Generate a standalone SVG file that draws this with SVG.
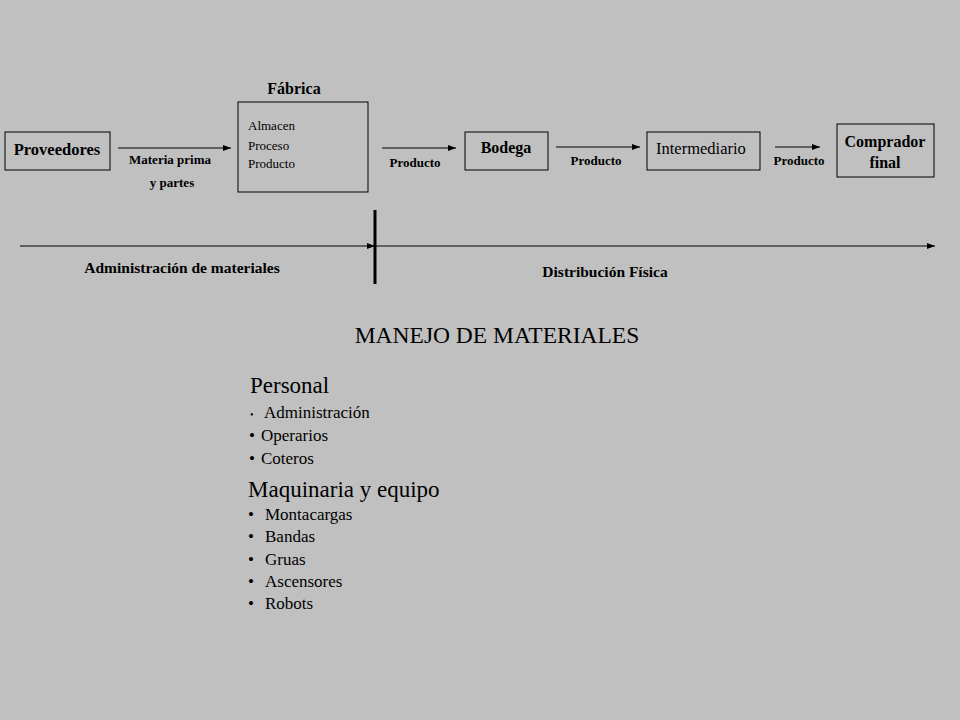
<svg xmlns="http://www.w3.org/2000/svg" width="960" height="720" viewBox="0 0 960 720">
<defs><marker id="ah" markerWidth="8" markerHeight="6" refX="8" refY="3" orient="auto" markerUnits="userSpaceOnUse"><path d="M0,0 L8,3 L0,6 z" fill="#000"/></marker></defs>
<style>
.b{fill:none;stroke:#000;stroke-width:1}
.t{font-family:"Liberation Serif",serif;fill:#000}
.bd{font-weight:bold}
.c{stroke:#000;stroke-width:1;fill:none;marker-end:url(#ah)}
</style>
<rect width="960" height="720" fill="#c0c0c0"/>
<g id="proveedores"><rect class="b" x="5" y="132" width="105" height="38"/><text class="t bd" x="57" y="155" font-size="16.5" text-anchor="middle">Proveedores</text></g>
<g id="fabrica"><text class="t bd" x="294" y="94" font-size="16" text-anchor="middle">Fábrica</text><rect class="b" x="238" y="102" width="130" height="90"/>
<text class="t" x="248" y="130" font-size="13">Almacen</text><text class="t" x="248" y="150" font-size="13">Proceso</text><text class="t" x="248" y="168" font-size="13">Producto</text></g>
<g id="bodega"><rect class="b" x="465" y="132" width="83" height="38"/><text class="t bd" x="506" y="153" font-size="16" text-anchor="middle">Bodega</text></g>
<g id="intermediario"><rect class="b" x="647" y="132" width="113" height="38"/><text class="t" x="656" y="154" font-size="16.5">Intermediario</text></g>
<g id="comprador"><rect class="b" x="837" y="124" width="97" height="53"/><text class="t bd" x="885" y="147" font-size="16" text-anchor="middle">Comprador</text><text class="t bd" x="885" y="168" font-size="16" text-anchor="middle">final</text></g>
<g id="connectors">
<line class="c" x1="118" y1="148" x2="231" y2="148"/>
<line class="c" x1="382" y1="148" x2="456" y2="148"/>
<line class="c" x1="556" y1="147" x2="640" y2="147"/>
<line class="c" x1="775" y1="147" x2="820" y2="147"/>
<line class="c" x1="20" y1="246" x2="375" y2="246"/>
<line class="c" x1="375" y1="246" x2="935" y2="246"/>
<line x1="375" y1="210" x2="375" y2="284" stroke="#000" stroke-width="3"/>
</g>
<g class="t bd" font-size="13" text-anchor="middle">
<text x="170" y="164">Materia prima</text><text x="172" y="187">y partes</text>
<text x="415" y="167">Producto</text><text x="596" y="165">Producto</text><text x="799" y="165">Producto</text>
</g>
<text class="t bd" x="182" y="273" font-size="15.5" text-anchor="middle">Administración de materiales</text>
<text class="t bd" x="605" y="277" font-size="15.5" text-anchor="middle">Distribución Física</text>
<text class="t" x="497" y="343" font-size="23.5" text-anchor="middle">MANEJO DE MATERIALES</text>
<g class="t" font-size="17">
<text x="250" y="393" font-size="23">Personal</text>
<text x="250" y="418" font-size="10">•</text><text x="264" y="418">Administración</text>
<text x="249" y="441">•</text><text x="261" y="441">Operarios</text>
<text x="249" y="464">•</text><text x="261" y="464">Coteros</text>
<text x="248" y="497" font-size="23">Maquinaria y equipo</text>
<text x="248" y="520">•</text><text x="265" y="520">Montacargas</text>
<text x="248" y="542">•</text><text x="265" y="542">Bandas</text>
<text x="248" y="565">•</text><text x="265" y="565">Gruas</text>
<text x="248" y="587">•</text><text x="265" y="587">Ascensores</text>
<text x="248" y="609">•</text><text x="265" y="609">Robots</text>
</g>
</svg>
